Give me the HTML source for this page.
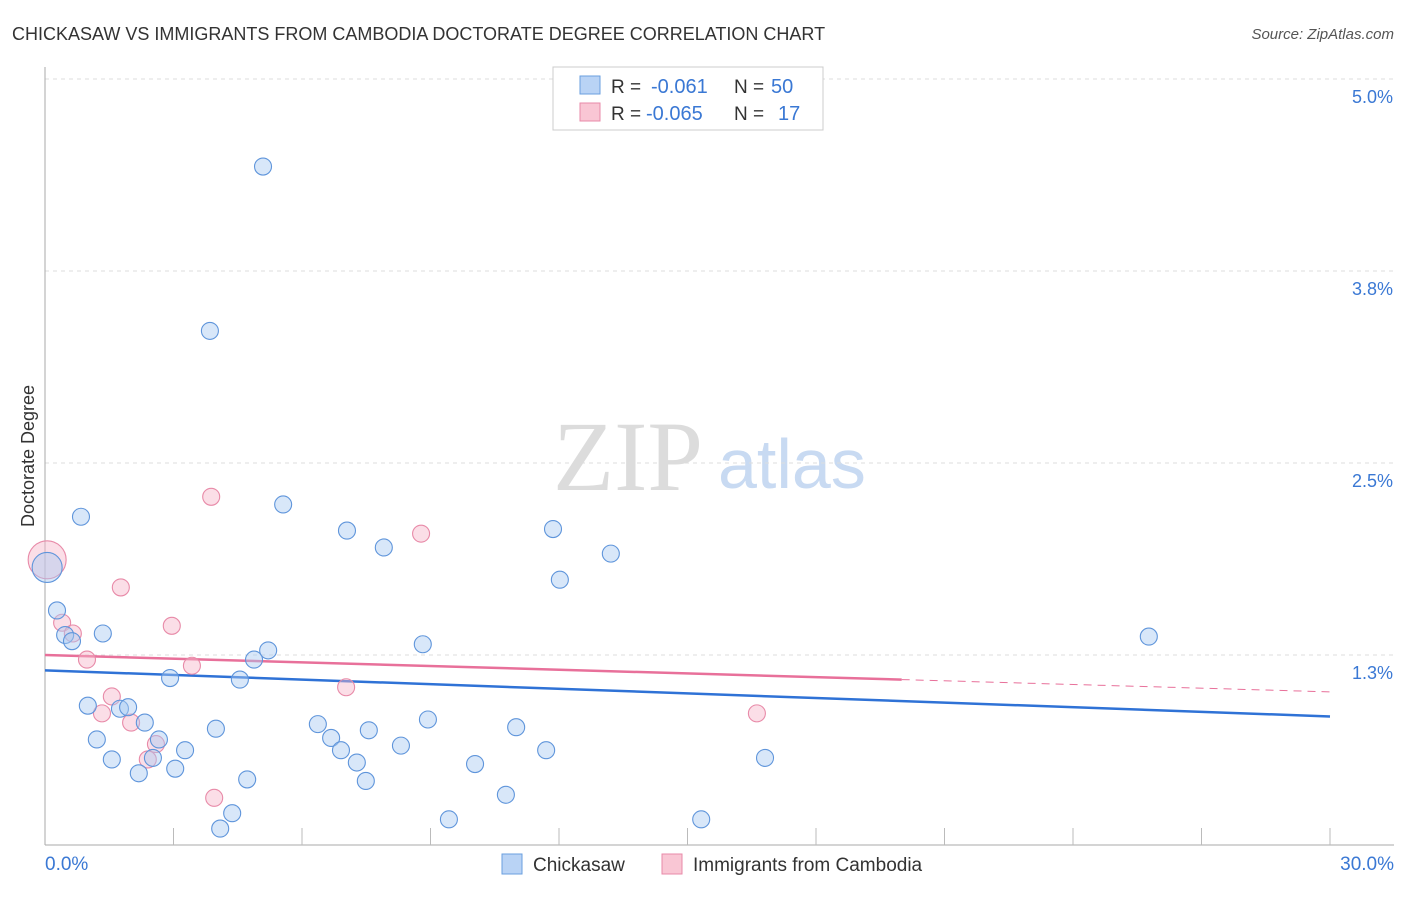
<!DOCTYPE html>
<html><head><meta charset="utf-8"><style>
body{margin:0;background:#fff;font-family:"Liberation Sans",sans-serif;}
</style></head><body>
<svg id="chart" width="1406" height="892" viewBox="0 0 1406 892" xmlns="http://www.w3.org/2000/svg" font-family="Liberation Sans, sans-serif">
<text x="12" y="40" font-size="18" fill="#333">CHICKASAW VS IMMIGRANTS FROM CAMBODIA DOCTORATE DEGREE CORRELATION CHART</text>
<text x="1394" y="39" font-size="15" fill="#555" font-style="italic" text-anchor="end">Source: ZipAtlas.com</text>
<g>
<text x="553" y="490" font-size="100" fill="#dcdcdc" style="font-family:'Liberation Serif',serif">ZIP</text>
<text x="718" y="488" font-size="70" fill="#c8daf2">atlas</text>
</g>
<g id="grid"></g>
<g id="axes"></g>
<text transform="translate(34,456) rotate(-90)" font-size="18" fill="#333" text-anchor="middle">Doctorate Degree</text>
<g id="trends"></g>
<g id="points"></g>
<g>
<rect x="553" y="67" width="270" height="63" fill="#fff" stroke="#ccc"/>
<rect x="580" y="76" width="20" height="18" fill="#b9d3f5" stroke="#6a9fdf"/>
<rect x="580" y="103" width="20" height="18" fill="#f9c6d4" stroke="#e88aa8"/>
<text x="611" y="93" font-size="19" fill="#333">R =</text>
<text x="651" y="93" font-size="20" fill="#3a78d4">-0.061</text>
<text x="734" y="93" font-size="19" fill="#333">N =</text>
<text x="771" y="93" font-size="20" fill="#3a78d4">50</text>
<text x="611" y="120" font-size="19" fill="#333">R =</text>
<text x="646" y="120" font-size="20" fill="#3a78d4">-0.065</text>
<text x="734" y="120" font-size="19" fill="#333">N =</text>
<text x="778" y="120" font-size="20" fill="#3a78d4">17</text>
</g>
<g>
<rect x="502" y="854" width="20" height="20" fill="#b9d3f5" stroke="#6a9fdf"/>
<text x="533" y="871" font-size="19" fill="#333">Chickasaw</text>
<rect x="662" y="854" width="20" height="20" fill="#f9c6d4" stroke="#e88aa8"/>
<text x="693" y="871" font-size="19" fill="#333">Immigrants from Cambodia</text>
</g>
</svg>
<script>
const yTicks=[5.0,3.75,2.5,1.25];
const yTickLabels=["5.0%","3.8%","2.5%","1.3%"];
const xTickLabels=["0.0%","30.0%"];
const blueX=[0.05,0.28,0.47,0.63,0.84,1.35,1.00,1.21,1.56,1.75,1.94,2.19,2.33,2.52,2.66,3.04,2.92,3.27,3.85,3.99,4.09,4.37,4.55,4.72,4.88,5.09,5.21,5.56,6.37,6.68,6.91,7.05,7.28,7.49,7.56,7.91,8.31,8.82,8.94,9.43,10.04,10.76,11.00,11.70,11.86,12.02,13.21,15.32,16.81,25.77];
const blueY=[1.82,1.54,1.38,1.34,2.15,1.39,0.92,0.70,0.57,0.90,0.91,0.48,0.81,0.58,0.70,0.51,1.10,0.63,3.36,0.77,0.12,0.22,1.09,0.44,1.22,4.43,1.28,2.23,0.80,0.71,0.63,2.06,0.55,0.43,0.76,1.95,0.66,1.32,0.83,0.18,0.54,0.34,0.78,0.63,2.07,1.74,1.91,0.18,0.58,1.37];
const pinkX=[0.05,0.40,0.65,0.98,1.33,1.56,1.77,2.01,2.40,2.59,2.96,3.43,3.88,3.95,7.03,8.78,16.62];
const pinkY=[1.87,1.46,1.39,1.22,0.87,0.98,1.69,0.81,0.57,0.67,1.44,1.18,2.28,0.32,1.04,2.04,0.87];
const blueTrend=[1.15,0.85];
const pinkTrend=[1.25,1.01];
const NS="http://www.w3.org/2000/svg";
const X=v=>45+v/30*1285, Y=v=>847-v*153.6;
function mk(tag,parent,attrs){const e=document.createElementNS(NS,tag);for(const k in attrs)e.setAttribute(k,attrs[k]);document.getElementById(parent).appendChild(e);return e;}
yTicks.forEach((t,i)=>{
 const l=mk('line','grid',{x1:45,x2:1394,y1:Y(t),y2:Y(t),stroke:'#ddd','stroke-dasharray':'4,4'});
 
 
 const tx=mk('text','axes',{x:1393,y:Y(t)+24,'font-size':18,fill:'#3a78d4','text-anchor':'end'});tx.textContent=yTickLabels[i];
 
 
});
mk('line','axes',{x1:45,x2:45,y1:67,y2:845,stroke:'#aaa'});
mk('line','axes',{x1:45,x2:1394,y1:845,y2:845,stroke:'#aaa'});
for(let i=1;i<=10;i++){const x=X(i*3);mk('line','axes',{x1:x,x2:x,y1:828,y2:845,stroke:'#bbb'});}
[0,30].forEach((v,i)=>{const t=mk('text','axes',{x:i?1394:45,y:870,'font-size':19,fill:'#3a78d4','text-anchor':i?'end':'start'});t.textContent=xTickLabels[i];
 
 });
function drawPts(xs,ys,fill,stroke,name){xs.forEach((x,i)=>{
 const c=mk('circle','points',{cx:X(x),cy:Y(ys[i]),r:i===0?(name==='pink-point'?19:15):8.5,fill:fill,'fill-opacity':0.45,stroke:stroke,'stroke-width':1.1});
 
 
});}
drawPts(pinkX,pinkY,'#f6b6c9','#e88aa8','pink-point');
drawPts(blueX,blueY,'#a9c9f1','#5f95db','blue-point');
let bl=mk('line','trends',{x1:X(0),y1:Y(blueTrend[0]),x2:X(30),y2:Y(blueTrend[1]),stroke:'#2f72d6','stroke-width':2.5});


const pm=pinkTrend[0]+(pinkTrend[1]-pinkTrend[0])*(20/30);
let pl=mk('line','trends',{x1:X(0),y1:Y(pinkTrend[0]),x2:X(20),y2:Y(pm),stroke:'#e8709a','stroke-width':2.5});


let pd=mk('line','trends',{x1:X(20),y1:Y(pm),x2:X(30),y2:Y(pinkTrend[1]),stroke:'#e8709a','stroke-width':1,'stroke-dasharray':'8,6'});


</script>
</body></html>
